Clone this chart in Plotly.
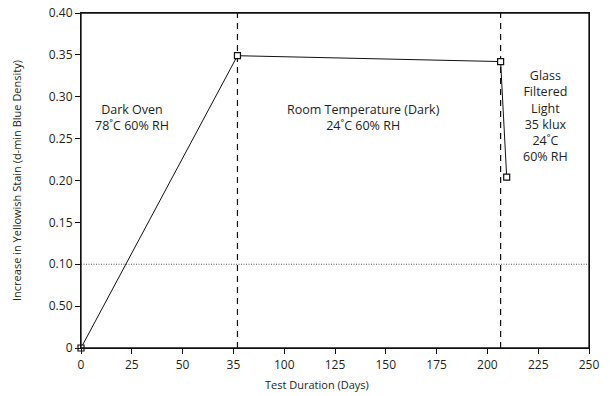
import plotly.graph_objects as go

# Data
days = [0, 77, 206.5, 209.5]
stain = [0, 0.349, 0.342, 0.204]
period_bounds = [77, 206.5]
threshold = 0.10

x_tickvals = [0, 25, 50, 75, 100, 125, 150, 175, 200, 225, 250]
x_ticktext = ["0", "25", "50", "35", "100", "125", "150", "175", "200", "225", "250"]
y_tickvals = [0, 0.05, 0.10, 0.15, 0.20, 0.25, 0.30, 0.35, 0.40]
y_ticktext = ["0", "0.50", "0.10", "0.15", "0.20", "0.25", "0.30", "0.35", "0.40"]

labels = [
    (25, 0.2756, "Dark Oven<br>78˚C 60% RH"),
    (139, 0.2756, "Room Temperature (Dark)<br>24˚C 60% RH"),
    (228.6, 0.277, "Glass<br>Filtered<br>Light<br>35 klux<br>24˚C<br>60% RH"),
]
x_title = "Test Duration (Days)"
y_title = "Increase in Yellowish Stain (d-min Blue Density)"

FONT = "Open Sans"
TXT = "#231f20"

fig = go.Figure()

fig.add_trace(go.Scatter(
    x=days, y=stain, mode="lines+markers",
    line=dict(color="#111", width=1),
    marker=dict(symbol="square", size=6, color="white",
                line=dict(color="#111", width=1.2)),
    cliponaxis=False, showlegend=False, hoverinfo="x+y",
))

shapes = []
for b in period_bounds:
    shapes.append(dict(type="line", xref="x", yref="paper", x0=b, x1=b, y0=0, y1=1,
                       line=dict(color="#111", width=1.2, dash="6px,5px"), layer="below"))
shapes.append(dict(type="line", xref="paper", yref="y", x0=0, x1=1, y0=threshold, y1=threshold,
                   line=dict(color="#555", width=1, dash="1px,1.5px"), layer="below"))
# plot frame
shapes.append(dict(type="rect", xref="paper", yref="paper", x0=0, x1=1, y0=0, y1=1,
                   line=dict(color="#111", width=1.3), fillcolor="rgba(0,0,0,0)", layer="above"))

annotations = []
for x, y, t in labels:
    annotations.append(dict(x=x, y=y, xref="x", yref="y", text=t, showarrow=False,
                            font=dict(family=FONT, size=12.5, color=TXT), align="center"))
annotations.append(dict(x=0.465, y=-0.08, xref="paper", yref="paper", text=x_title,
                        showarrow=False, yanchor="top",
                        font=dict(family=FONT, size=11, color=TXT)))

fig.update_layout(
    width=610, height=396,
    margin=dict(l=81, r=21, t=13, b=48),
    paper_bgcolor="white", plot_bgcolor="white",
    font=dict(family=FONT, size=11, color=TXT),
    shapes=shapes, annotations=annotations,
    xaxis=dict(range=[0, 250], tickvals=x_tickvals, ticktext=x_ticktext, automargin=False,
               showgrid=False, zeroline=False, showline=True, linecolor="#111", linewidth=1.2,
               mirror=True, ticks="outside", ticklen=5, tickcolor="#111",
               tickfont=dict(family=FONT, size=12, color=TXT)),
    yaxis=dict(range=[0, 0.40], tickvals=y_tickvals, ticktext=y_ticktext, automargin=False,
               showgrid=False, zeroline=False, showline=True, linecolor="#111", linewidth=1.2,
               mirror=True, ticks="outside", ticklen=5, tickcolor="#111",
               tickfont=dict(family=FONT, size=12, color=TXT),
               title=dict(text=y_title, font=dict(family=FONT, size=11, color=TXT), standoff=24)),
)

fig.write_html("out.html", config={"displayModeBar": False},
               post_script="document.body.style.margin='0';document.body.style.overflow='hidden';document.documentElement.style.overflow='hidden';")
